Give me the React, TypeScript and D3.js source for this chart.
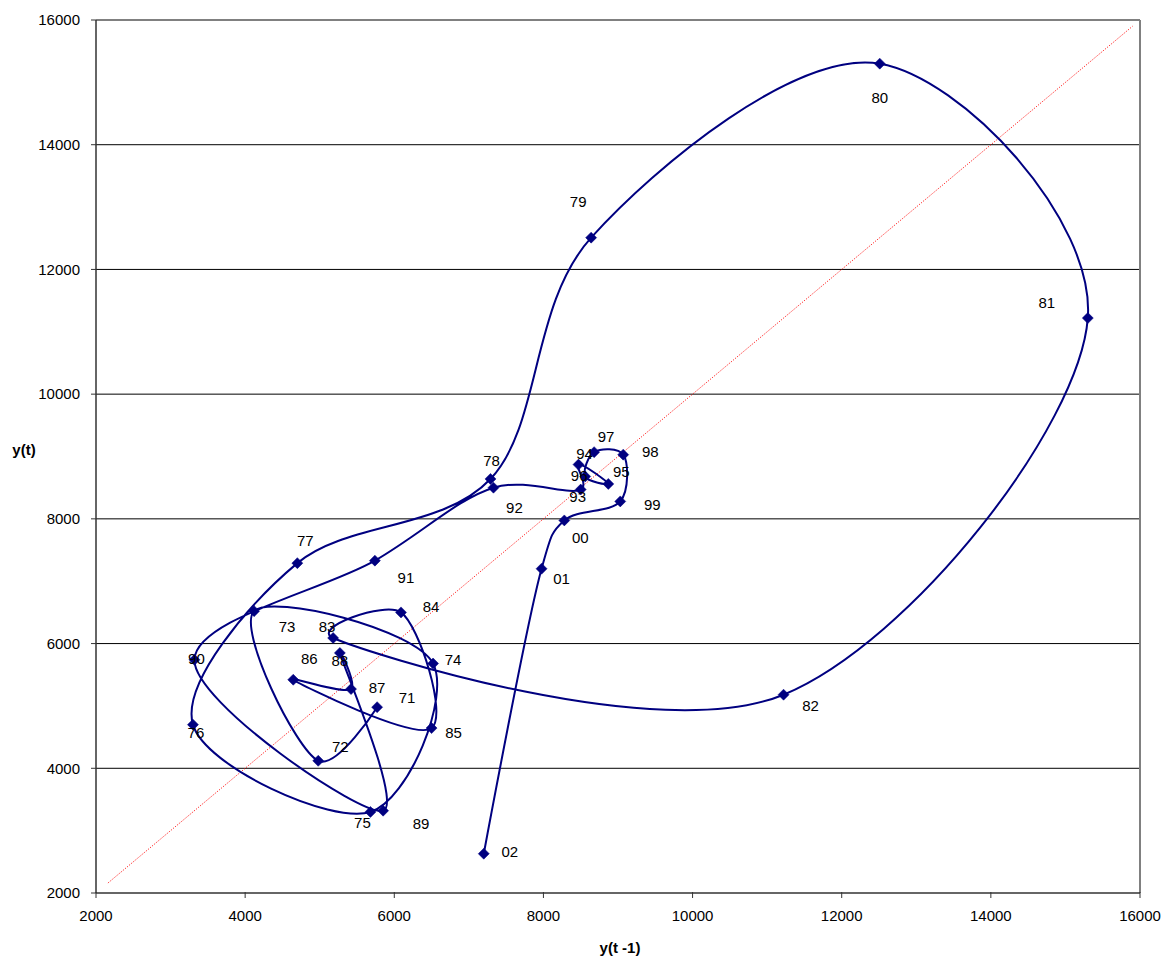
import React from "react";
import * as d3 from "d3";

// Annual values y(t) for 1970..2002 (lag plot: x = y(t-1), y = y(t))
const years: number[] = d3.range(1970, 2003);
const values: number[] = [
  5770, 4980, 4120, 6520, 5680, 3300, 4700, 7290, 8640, 12510, 15300, 11220,
  5180, 6090, 6500, 4645, 5420, 5270, 5850, 3320, 5740, 7330, 8500, 8470,
  8870, 8560, 8680, 9070, 9030, 8280, 7975, 7200, 2630,
];
const xTicks: number[] = [2000, 4000, 6000, 8000, 10000, 12000, 14000, 16000];
const yTicks: number[] = [2000, 4000, 6000, 8000, 10000, 12000, 14000, 16000];
const diagonal: number[] = [2160, 15900];

// label offsets (px) relative to marker, for years 1971..2002
const labelOffsets: [number, number][] = [
  [30, -9], [22, -14], [33, 16], [20, -4], [-8, 11], [3, 8], [8, -22], [1, -18],
  [-13, -36], [0, 34], [-41, -15], [27, 11], [-6, -11], [30, -6], [22, 5], [16, -21],
  [26, -1], [0, 8], [38, 13], [2, -1], [31, 17], [21, 20], [-3, 7], [6, -11],
  [13, -12], [-6, -1], [12, -15], [27, -3], [32, 3], [16, 17], [20, 10], [26, -2],
];

const W = 1162;
const H = 959;
const L = 96, R = 1140, T = 20, B = 893;
const FONT = "'Liberation Sans', Arial, sans-serif";
const NAVY = "#000080";

export default function App() {
  const x = d3.scaleLinear().domain([2000, 16000]).range([L, R]);
  const y = d3.scaleLinear().domain([2000, 16000]).range([B, T]);

  const pts = values.slice(1).map((v, i) => ({
    year: years[i + 1],
    xv: values[i],
    yv: v,
  }));

  const line = d3
    .line<{ xv: number; yv: number }>()
    .x((d) => x(d.xv))
    .y((d) => y(d.yv))
    .curve(d3.curveCatmullRom.alpha(0.25));

  const diamond = (cx: number, cy: number, r: number) =>
    `M${cx},${cy - r}L${cx + r},${cy}L${cx},${cy + r}L${cx - r},${cy}Z`;

  return (
    <svg
      width={W}
      height={H}
      style={{ position: "absolute", left: 0, top: 0, background: "#fff" }}
    >
      <rect x={0} y={0} width={W} height={H} fill="#fff" />
      {/* gridlines */}
      {yTicks
        .filter((t) => t > 2000 && t < 16000)
        .map((t) => (
          <line key={"g" + t} x1={L} x2={R} y1={y(t)} y2={y(t)} stroke="#000" strokeWidth={1} />
        ))}
      {/* plot border */}
      <line x1={L} x2={R} y1={T} y2={T} stroke="#808080" strokeWidth={2} />
      <line x1={R} x2={R} y1={T} y2={B} stroke="#808080" strokeWidth={2} />
      {/* axes */}
      <line x1={L} x2={L} y1={T} y2={B} stroke="#333" strokeWidth={1.5} />
      <line x1={L} x2={R} y1={B} y2={B} stroke="#333" strokeWidth={1.5} />
      {yTicks.map((t) => (
        <g key={"yt" + t}>
          <line x1={L - 5} x2={L} y1={y(t)} y2={y(t)} stroke="#333" strokeWidth={1} />
          <text
            x={L - 16}
            y={y(t)}
            dy="0.35em"
            textAnchor="end"
            fontFamily={FONT}
            fontSize={15}
            fill="#000"
          >
            {t}
          </text>
        </g>
      ))}
      {xTicks.map((t) => (
        <g key={"xt" + t}>
          <line x1={x(t)} x2={x(t)} y1={B - 1} y2={B + 5} stroke="#333" strokeWidth={1} />
          <text
            x={x(t)}
            y={921}
            textAnchor="middle"
            fontFamily={FONT}
            fontSize={15}
            fill="#000"
          >
            {t}
          </text>
        </g>
      ))}
      {/* axis titles */}
      <text x={24} y={450} dy="0.35em" textAnchor="middle" fontFamily={FONT} fontSize={15} fontWeight="bold">
        y(t)
      </text>
      <text x={620} y={953} textAnchor="middle" fontFamily={FONT} fontSize={15} fontWeight="bold">
        y(t -1)
      </text>
      {/* diagonal */}
      <line
        x1={x(diagonal[0])}
        y1={y(diagonal[0])}
        x2={x(diagonal[1])}
        y2={y(diagonal[1])}
        stroke="#ff0000"
        strokeWidth={1}
        strokeDasharray="1,1.5"
      />
      {/* smoothed series */}
      <path d={line(pts) || ""} fill="none" stroke={NAVY} strokeWidth={2} />
      {pts.map((p) => (
        <path key={"m" + p.year} d={diamond(x(p.xv), y(p.yv), 5.5)} fill={NAVY} stroke={NAVY} strokeWidth={0.5} />
      ))}
      {pts.map((p, i) => (
        <text
          key={"l" + p.year}
          x={x(p.xv) + labelOffsets[i][0]}
          y={y(p.yv) + labelOffsets[i][1]}
          dy="0.35em"
          textAnchor="middle"
          fontFamily={FONT}
          fontSize={15}
          fill="#000"
        >
          {String(p.year % 100).padStart(2, "0")}
        </text>
      ))}
    </svg>
  );
}
